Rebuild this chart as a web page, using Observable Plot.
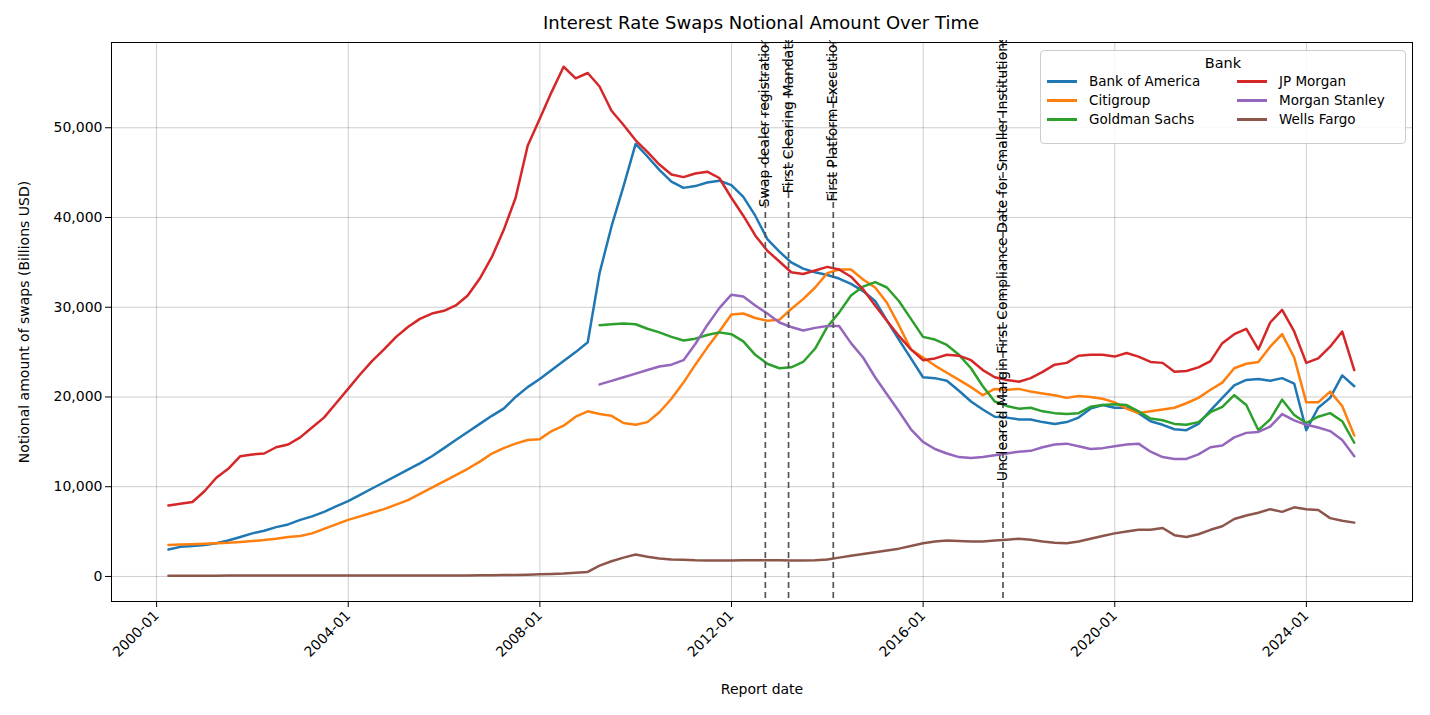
<!DOCTYPE html>
<html><head><meta charset="utf-8">
<script src="https://cdn.jsdelivr.net/npm/d3@7"></script>
<script src="https://cdn.jsdelivr.net/npm/@observablehq/plot@0.6"></script>
<style>
body{margin:0;background:#fff;font-family:"DejaVu Sans",sans-serif;}
#wrap{position:relative;width:1430px;height:715px;}
#title{position:absolute;top:12px;left:0;width:1522px;text-align:center;font-size:18px;color:#000;}
#chart{position:absolute;top:40px;left:0;}
#legend{position:absolute;left:1040px;top:50px;width:364px;height:92px;border:1px solid #ccc;border-radius:4px;background:rgba(255,255,255,0.85);font-size:13.5px;}
#legend .t{text-align:center;font-size:14.5px;margin-top:4px;}
#legend .g{display:grid;grid-template-columns:190px 170px;row-gap:3px;margin-left:6px;margin-top:2px;}
#legend .i{display:flex;align-items:center;}
#legend .i span.s{display:inline-block;width:30px;height:3px;margin-right:12px;}
</style></head><body>
<div id="wrap"><div id="title">Interest Rate Swaps Notional Amount Over Time</div><div id="chart"></div>
<div id="legend"><div class="t">Bank</div><div class="g" id="lg"></div></div></div>
<script>
const banks = ["Bank of America","Citigroup","Goldman Sachs","JP Morgan","Morgan Stanley","Wells Fargo"];
const colors = ["#1f77b4","#ff7f0e","#2ca02c","#d62728","#9467bd","#8c564b"];
const N = null;
const jpm = [7900,8100,8300,9500, 11000,12000,13400,13600, 13700,14400,14700,15500, 16600,17700,19300,20900, 22500,24000,25300,26700, 27800,28700,29300,29600, 30200,31300,33200,35600, 38600,42200,48000,51000, 54000,56800,55500,56100, 54600,51900,50300,48600, 47300,45900,44800,44500, 44900,45100,44400,42200, 40200,38000,36300,35100, 33900,33700,34100,34500, 34200,33400,32000,30200, 28500,26800,25300,24100, 24300,24700,24600,24100, 23000,22200,21900,21700, 22100,22800,23600,23800, 24600,24700,24700,24500, 24900,24500,23900,23800, 22800,22900,23300,24000, 26000,27000,27600,25300, 28300,29700,27300,23800, 24300,25600,27300,23000];
const bofa = [3000,3300,3400,3500, 3700,4000,4400,4800, 5100,5500,5800,6300, 6700,7200,7800,8400, 9100,9800,10500,11200, 11900,12600,13400,14300, 15200,16100,17000,17900, 18700,20000,21100,22000, 23000,24000,25000,26100, 33800,39000,43500,48200, 46800,45300,44000,43300, 43500,43900,44100,43600, 42300,40200,37600,36200, 35000,34300,33900,33600, 33200,32600,31800,30700, 28500,26400,24300,22200, 22100,21800,20700,19500, 18600,17800,17700,17500, 17500,17200,17000,17200, 17700,18700,19100,18800, 18800,18200,17300,16900, 16400,16300,17000,18500, 19900,21300,21900,22000, 21800,22100,21500,16300, 18800,19900,22400,21200];
const citi = [3500,3550,3600,3650, 3700,3750,3850,3950, 4050,4200,4400,4500, 4800,5300,5800,6300, 6700,7100,7500,8000, 8500,9200,9900,10600, 11300,12000,12800,13700, 14300,14800,15200,15300, 16200,16800,17800,18400, 18100,17900,17100,16900, 17200,18300,19800,21600, 23600,25500,27300,29200, 29300,28800,28500,28600, 29800,30900,32200,33800, 34200,34200,33100,32200, 30500,28000,25300,24400, 23500,22700,21900,21100, 20200,20900,20800,20900, 20600,20400,20200,19900, 20100,20000,19800,19400, 18700,18200,18400,18600, 18800,19300,19900,20800, 21600,23200,23700,23900, 25600,27000,24400,19400, 19400,20600,19000,15700];
const gs = Array(36).fill(N).concat([28000,28100,28200,28100, 27600,27200,26700,26300, 26500,26900,27200,27000, 26200,24700,23700,23200, 23300,23900,25400,27800, 29400,31300,32300,32800, 32200,30700,28700,26700, 26400,25800,24700,23200, 21200,19500,19000,18700, 18800,18400,18200,18100, 18200,18900,19100,19200, 19100,18400,17600,17400, 17000,16900,17200,18300, 18900,20200,19100,16300, 17500,19700,18000,17100, 17800,18200,17300,14900]);
const ms = Array(36).fill(N).concat([21400,21800,22200,22600, 23000,23400,23600,24100, 25900,28000,29900,31400, 31200,30200,29300,28300, 27800,27400,27700,27900, 27900,26000,24400,22200, 20300,18400,16400,15000, 14200,13700,13300,13200, 13300,13500,13700,13900, 14000,14400,14700,14800, 14500,14200,14300,14500, 14700,14800,13900,13300, 13100,13100,13600,14400, 14600,15500,16000,16100, 16700,18100,17400,16900, 16600,16200,15200,13400]);
const wf = [80,80,80,90, 90,100,100,110, 110,110,110,100, 100,100,100,100, 100,100,100,100, 100,100,110,110, 120,120,130,140, 150,160,200,240, 280,330,420,500, 1200,1700,2100,2450, 2200,2000,1900,1850, 1800,1780,1770,1770, 1800,1820,1820,1800, 1780,1780,1800,1900, 2100,2300,2500,2700, 2900,3100,3400,3700, 3900,4000,3950,3900, 3900,4000,4100,4200, 4100,3900,3750,3700, 3900,4200,4500,4800, 5000,5200,5200,5400, 4600,4400,4700,5200, 5600,6400,6800,7100, 7500,7200,7700,7500, 7400,6500,6200,6000];
const series = [bofa,citi,gs,jpm,ms,wf];
const quarterDates = d3.range(100).map(i => new Date(2000 + Math.floor((i+1)/4), ((i+1)%4)*3, 0));
const events = [
  {date:new Date(2012,8,15), label:"Swap dealer registration"},
  {date:new Date(2013,2,11), label:"First Clearing Mandate"},
  {date:new Date(2014,1,15), label:"First Platform Execution"},
  {date:new Date(2017,8,1), label:"Uncleared Margin First Compliance Date for Smaller Institutions"}
];
const xTicks = [2000,2004,2008,2012,2016,2020,2024].map(y => new Date(y,0,1));
const rows = [];
banks.forEach((b,k) => series[k].forEach((v,i) => rows.push({bank:b, date:quarterDates[i], value:v})));

const plot = Plot.plot({
  width:1430, height:675, marginLeft:111, marginRight:18, marginTop:2, marginBottom:114,
  style:{fontFamily:"DejaVu Sans", fontSize:"14px", color:"#000"},
  x:{type:"time", domain:[new Date(1999,0,22), new Date(2026,2,20)], ticks:xTicks, tickFormat:d3.timeFormat("%Y-%m"), tickRotate:-45, label:"Report date", labelAnchor:"center", labelArrow:"none", labelOffset:92, grid:true},
  y:{domain:[-2790,59500], ticks:[0,10000,20000,30000,40000,50000], tickFormat:d3.format(","), label:"Notional amount of swaps (Billions USD)", labelAnchor:"center", labelArrow:"none", labelOffset:92, grid:true},
  color:{domain:banks, range:colors},
  marks:[
    Plot.gridX(xTicks,{stroke:"#000", strokeOpacity:0.1}),
    Plot.gridY([0,10000,20000,30000,40000,50000],{stroke:"#000", strokeOpacity:0.1}),
    Plot.lineY(rows.filter(d=>d.value!=null),{x:"date", y:"value", stroke:"bank", strokeWidth:2.5, z:"bank"}),
    Plot.ruleX(events,{x:"date", stroke:"#555", strokeWidth:1.7, strokeDasharray:"6,4"}),
    Plot.text(events,{x:"date", text:"label", frameAnchor:"top", rotate:-90, textAnchor:"end", dx:-6, dy:-7, fontSize:14, fill:"#000"}),
    Plot.frame({stroke:"#000"})
  ]
});
document.getElementById("chart").appendChild(plot);
const lg = document.getElementById("lg");
[0,3,1,4,2,5].forEach(k => { lg.innerHTML += `<div class="i"><span class="s" style="background:${colors[k]}"></span>${banks[k]}</div>`; });
</script></body></html>
